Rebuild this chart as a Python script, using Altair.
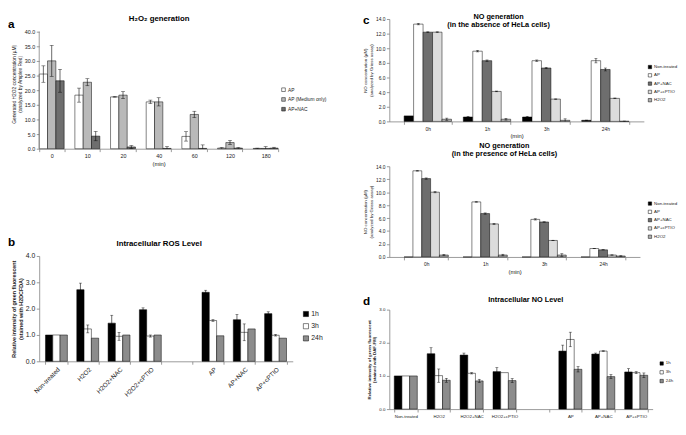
import altair as alt
import pandas as pd

FONT = "Liberation Sans"

# ---------------- data ----------------
# panel a : H2O2 generation
A_TIMES = ["0", "10", "20", "40", "60", "120", "180"]
A_SERIES = ["AP", "AP (Medium only)", "AP+NAC"]
A_AP = [25.5, 18.3, 17.7, 16.0, 4.2, 0.2, 0.1]
A_AP_ERR = [2.8, 2.4, 0.1, 0.6, 1.6, 0.2, 0.1]
A_MED = [30.0, 22.7, 18.3, 16.0, 11.7, 2.1, 0.1]
A_MED_ERR = [5.3, 1.2, 1.2, 1.4, 1.1, 0.7, 0.6]
A_NAC = [23.2, 4.3, 0.6, 0.1, 0.1, 0.2, 0.2]
A_NAC_ERR = [3.9, 1.6, 0.5, 0.6, 1.2, 0.2, 0.3]

# panel b : intracellular ROS level
B_CATS = ["Non-treated", "H2O2", "H2O2+NAC", "H2O2+cPTIO", " ", "AP", "AP+NAC", "AP+cPTIO"]
B_SERIES = ["1h", "3h", "24h"]
B_1H = [1.0, 2.72, 1.45, 1.96, None, 2.62, 1.58, 1.81]
B_1H_ERR = [0.0, 0.25, 0.3, 0.07, None, 0.08, 0.2, 0.07]
B_3H = [1.0, 1.23, 0.95, 0.96, None, 1.55, 1.1, 0.99]
B_3H_ERR = [0.0, 0.15, 0.15, 0.04, None, 0.03, 0.32, 0.03]
B_24H = [1.0, 0.88, 1.0, 1.0, None, 0.97, 1.23, 0.88]
B_24H_ERR = [0.0, 0.0, 0.0, 0.0, None, 0.0, 0.0, 0.0]

# panel c : NO generation (absence of HeLa cells)
C_TIMES = ["0h", "1h", "3h", "24h"]
C_SERIES = ["Non-treated", "AP", "AP+NAC", "AP+cPTIO", "H2O2"]
C_NT = [0.75, 0.6, 0.6, 0.15]
C_NT_ERR = [0.0, 0.1, 0.1, 0.03]
C_AP = [13.3, 9.6, 8.3, 8.3]
C_AP_ERR = [0.1, 0.1, 0.1, 0.3]
C_NAC = [12.2, 8.3, 7.3, 7.1]
C_NAC_ERR = [0.05, 0.1, 0.1, 0.2]
C_CPTIO = [12.2, 4.1, 3.05, 3.15]
C_CPTIO_ERR = [0.05, 0.05, 0.03, 0.05]
C_H2O2 = [0.3, 0.3, 0.15, 0.02]
C_H2O2_ERR = [0.15, 0.12, 0.2, 0.03]

# panel c (lower) : NO generation (presence of HeLa cells)
E_NT = [0.0, 0.0, 0.0, 0.0]
E_NT_ERR = [0.0, 0.0, 0.0, 0.0]
E_AP = [13.3, 8.5, 5.8, 1.3]
E_AP_ERR = [0.05, 0.05, 0.1, 0.02]
E_NAC = [12.1, 6.7, 5.4, 1.1]
E_NAC_ERR = [0.1, 0.1, 0.03, 0.02]
E_CPTIO = [10.0, 5.1, 2.55, 0.3]
E_CPTIO_ERR = [0.1, 0.1, 0.03, 0.03]
E_H2O2 = [0.3, 0.3, 0.3, 0.15]
E_H2O2_ERR = [0.1, 0.12, 0.2, 0.05]

# panel d : intracellular NO level
D_CATS = ["Non-treated", "H2O2", "H2O2+NAC", "H2O2+cPTIO", " ", "AP", "AP+NAC", "AP+cPTIO"]
D_SERIES = ["1h", "3h", "24h"]
D_1H = [1.0, 1.67, 1.63, 1.13, None, 1.75, 1.66, 1.12]
D_1H_ERR = [0.0, 0.18, 0.06, 0.12, None, 0.18, 0.03, 0.1]
D_3H = [1.0, 1.01, 1.08, 1.1, None, 2.1, 1.75, 1.1]
D_3H_ERR = [0.0, 0.2, 0.02, 0.0, None, 0.22, 0.01, 0.03]
D_24H = [1.0, 0.87, 0.85, 0.86, None, 1.2, 0.98, 1.02]
D_24H_ERR = [0.0, 0.06, 0.05, 0.06, None, 0.08, 0.06, 0.07]


def make_df(cats, series, vals_list, errs_list):
    rows = []
    for s, vals, errs in zip(series, vals_list, errs_list):
        for c, v, e in zip(cats, vals, errs):
            if v is None:
                continue
            rows.append({"cat": c, "series": s, "value": v, "err": e,
                         "lo": max(v - e, 0.0), "hi": v + e})
    return pd.DataFrame(rows)


def text_layer(txt, x, y, size, weight="bold", align="left", baseline="top", line_height=None):
    kw = dict(fontSize=size, fontWeight=weight, align=align, baseline=baseline,
              font=FONT, color="black", lineBreak="\n")
    if line_height:
        kw["lineHeight"] = line_height
    return alt.Chart(pd.DataFrame({"t": [txt]})).mark_text(**kw).encode(
        text="t:N", x=alt.value(x), y=alt.value(y))


def panel(df, cats, series, colors, yvals, width, height, y_title, x_title, texts,
          legend_x, legend_y, pin, pout, label_angle=0, xlabel_size=5.5, ylabel_size=5.5,
          ytitle_size=5, ytitle_weight="normal", legend_size=5, symbol_size=14,
          row_pad=3, cap=4, ytop=None):
    xaxis = alt.Axis(title=x_title, labelAngle=label_angle, labelFontSize=xlabel_size,
                     tickBand="extent", titleFontSize=6, titleFontWeight="normal",
                     titleColor="#222222", labelPadding=2)
    xscale = alt.Scale(domain=cats, paddingInner=pin, paddingOuter=pout)
    x = alt.X("cat:N", scale=xscale, axis=xaxis, sort=cats)
    xo = alt.XOffset("series:N", sort=series,
                     scale=alt.Scale(domain=series, paddingInner=0, paddingOuter=0))
    top = ytop if ytop is not None else yvals[-1]
    yscale = alt.Scale(domain=[yvals[0], top], nice=False)
    yaxis = alt.Axis(title=y_title, values=yvals, format=".1f", labelFontSize=ylabel_size,
                     titleFontSize=ytitle_size, titleFontWeight=ytitle_weight,
                     titleLineHeight=ytitle_size + 1.5, domain=(ytop is None))
    legend = alt.Legend(title=None, orient="none", legendX=legend_x, legendY=legend_y,
                        symbolType="square", symbolSize=symbol_size,
                        symbolStrokeColor="black", symbolStrokeWidth=0.5,
                        labelFontSize=legend_size, rowPadding=row_pad, labelOffset=2,
                        padding=0)
    bars = alt.Chart(df).mark_bar(stroke="black", strokeWidth=0.5).encode(
        x=x, xOffset=xo,
        y=alt.Y("value:Q", scale=yscale, axis=yaxis),
        color=alt.Color("series:N", scale=alt.Scale(domain=series, range=colors),
                        legend=legend, sort=series),
    )
    edf = df[df["err"] > 0]
    rule = alt.Chart(edf).mark_rule(color="black", strokeWidth=0.6).encode(
        x=x, xOffset=xo, y=alt.Y("lo:Q", scale=yscale, axis=yaxis), y2="hi:Q")
    cap_hi = alt.Chart(edf).mark_tick(color="black", thickness=0.6, size=cap).encode(
        x=x, xOffset=xo, y=alt.Y("hi:Q", scale=yscale, axis=yaxis))
    cap_lo = alt.Chart(edf[edf["lo"] > 0]).mark_tick(color="black", thickness=0.6, size=cap).encode(
        x=x, xOffset=xo, y=alt.Y("lo:Q", scale=yscale, axis=yaxis))
    layers = [bars, rule, cap_hi, cap_lo]
    if ytop is not None:
        # value axis line drawn only up to the last tick value
        axis_line = alt.Chart(pd.DataFrame({"y0": [yvals[0]], "y1": [yvals[-1]]})).mark_rule(
            color="#808080", strokeWidth=0.8).encode(
            x=alt.value(0), y=alt.Y("y0:Q", scale=yscale, axis=yaxis), y2="y1:Q")
        layers.append(axis_line)
    layers += texts
    return alt.layer(*layers).properties(width=width, height=height)


GREY_CHECK_A = "#b9b9b9"
GREY_DARK = "#6e6e6e"
GREY_CHECK_B = "#8c8c8c"
GREY_DOT = "#dcdcdc"
GREY_CHECK_C = "#b0b0b0"

# panel a
df_a = make_df(A_TIMES, A_SERIES, [A_AP, A_MED, A_NAC], [A_AP_ERR, A_MED_ERR, A_NAC_ERR])
pa = panel(df_a, A_TIMES, A_SERIES, ["#ffffff", GREY_CHECK_A, GREY_DARK],
           [0, 5, 10, 15, 20, 25, 30, 35, 40], 245, 133,
           ["Generated H2O2 concentration (µM)", "(analyzed by Amplex Red)"], "(min)",
           [text_layer("a", -32, 0, 12),
            text_layer("H₂O₂ generation", 123, 0, 8, align="center", baseline="middle")],
           248, 70, 0.3, 0.0, cap=4, ytop=44.3)

# panel b
df_b = make_df(B_CATS, B_SERIES, [B_1H, B_3H, B_24H], [B_1H_ERR, B_3H_ERR, B_24H_ERR])
pb = panel(df_b, B_CATS, B_SERIES, ["#000000", "#ffffff", GREY_CHECK_B],
           [0, 1, 2, 3, 4], 260, 108,
           ["Relative intensity of green fluorescent", "(stained with H2DCFDA)"], None,
           [text_layer("b", -32, -19, 12),
            text_layer("Intracellular ROS Level", 123, -12, 8, align="center", baseline="middle")],
           270, 56, 0.3, 0.2, label_angle=-45, xlabel_size=6.5, ylabel_size=7,
           ytitle_size=5.5, ytitle_weight="bold", legend_size=7, symbol_size=28,
           row_pad=3.5, cap=3)

# panel c (absence)
df_c = make_df(C_TIMES, C_SERIES, [C_NT, C_AP, C_NAC, C_CPTIO, C_H2O2],
               [C_NT_ERR, C_AP_ERR, C_NAC_ERR, C_CPTIO_ERR, C_H2O2_ERR])
C_COLORS = ["#000000", "#ffffff", GREY_DARK, GREY_DOT, GREY_CHECK_C]
pc = panel(df_c, C_TIMES, C_SERIES, C_COLORS,
           [0, 2, 4, 6, 8, 10, 12, 14], 261, 105,
           ["NO concentration (µM)", "(analyzed by Griess assay)"], "(min)",
           [text_layer("c", -27, -4, 12),
            text_layer("NO generation\n(in the absence of HeLa cells)", 112, -6, 7.5,
                       align="center", line_height=8.5)],
           265, 47, 0.2, 0.25, xlabel_size=5, ylabel_size=5, ytitle_size=4.5,
           legend_size=4.5, symbol_size=12, row_pad=2.5, cap=3)

# panel c (presence)
df_e = make_df(C_TIMES, C_SERIES, [E_NT, E_AP, E_NAC, E_CPTIO, E_H2O2],
               [E_NT_ERR, E_AP_ERR, E_NAC_ERR, E_CPTIO_ERR, E_H2O2_ERR])
pe = panel(df_e, C_TIMES, C_SERIES, C_COLORS,
           [0, 2, 4, 6, 8, 10, 12, 14], 257, 93,
           ["NO concentration (µM)", "(analyzed by Griess assay)"], "(min)",
           [text_layer("NO generation\n(in the presence of HeLa cells)", 118, -25, 7.5,
                       align="center", line_height=8.5)],
           265, 36, 0.25, 0.25, xlabel_size=5, ylabel_size=5, ytitle_size=4.5,
           legend_size=4.5, symbol_size=12, row_pad=2.5, cap=3)

# panel d
df_d = make_df(D_CATS, D_SERIES, [D_1H, D_3H, D_24H], [D_1H_ERR, D_3H_ERR, D_24H_ERR])
pd_ = panel(df_d, D_CATS, D_SERIES, ["#000000", "#ffffff", GREY_CHECK_B],
            [0, 1, 2, 3], 270, 102,
            ["Relative intensity of green fluorescent", "(stained with DAF-FM)"], None,
            [text_layer("d", -27, -14, 12),
             text_layer("Intracellular NO Level", 140, -10, 7.5, align="center", baseline="middle")],
            277, 53, 0.3, 0.15, xlabel_size=4.5, ylabel_size=4.5, ytitle_size=4.5,
            ytitle_weight="bold", legend_size=4.5, symbol_size=12, row_pad=3, cap=3)

res = dict(color="independent", xOffset="independent", x="independent", y="independent")
left = alt.vconcat(pa, pb, spacing=71).resolve_scale(**res)
right_top = alt.vconcat(pc, pe, spacing=3).resolve_scale(**res)
right = alt.vconcat(right_top, pd_, spacing=21).resolve_scale(**res)

chart = alt.hconcat(left, right, spacing=36).resolve_scale(**res).properties(
    padding={"left": 0, "top": 0, "right": 0, "bottom": 0}
).configure_view(stroke=None).configure_axis(
    labelFont=FONT, titleFont=FONT, domainColor="#808080", tickColor="#808080",
    domainWidth=0.8, tickWidth=0.8, tickSize=3, labelPadding=1.5, titlePadding=2,
    grid=False, labelColor="#222222", titleColor="#222222"
).configure_legend(labelFont=FONT, labelColor="#222222").configure_text(font=FONT)

chart.save("out.html", embed_options={"renderer": "svg", "actions": False})
